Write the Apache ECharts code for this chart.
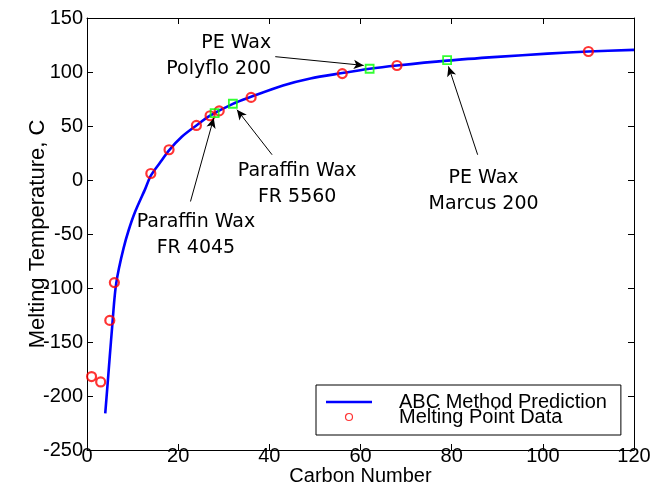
<!DOCTYPE html>
<html>
<head>
<meta charset="utf-8">
<script src="https://cdn.jsdelivr.net/npm/echarts@6/dist/echarts.min.js"></script>
<style>
  html, body { margin: 0; padding: 0; background: #fff; }
  #chart { width: 658px; height: 489px; }
</style>
</head>
<body>
<div id="chart"></div>
<script>
// ABC method prediction curve (carbon number vs melting temperature, C)
const curveN = [4, 4.5, 5, 5.5, 6, 6.4, 7, 8, 9.1, 10.6, 12.8, 14, 16, 18, 20.8, 24, 27, 32, 36, 43, 49, 56, 62, 68, 79, 90, 101, 110, 120];
const curveT = [-216, -190, -163, -137, -111, -96, -82, -63.5, -47, -29, -8, 4, 16, 27.5, 40, 50.5, 59.5, 70.5, 77, 87.5, 94, 99, 103, 106, 110.5, 114, 117, 119, 120.5];

// Measured melting points of n-alkanes
const meltN = [1, 3, 5, 6, 14, 18, 24, 27, 29, 36, 56, 68, 110];
const meltT = [-182, -187, -130, -95, 6, 28, 50.5, 59.5, 64, 76.5, 98.5, 106, 119];

// Commercial waxes
const waxN = [28, 32, 62, 79];
const waxT = [62, 70.6, 103, 111];
const waxLabels = ['Paraffin Wax\nFR 4045', 'Paraffin Wax\nFR 5560', 'PE Wax\nPolyflo 200', 'PE Wax\nMarcus 200'];

// Axis ticks
const xTicks = { min: 0, max: 120, interval: 20 };
const yTicks = { min: -250, max: 150, interval: 50 };

const zip = (a, b) => a.map((v, i) => [v, b[i]]);

// label anchors and arrow tails (in data units), one per wax
const labelAnchor = [[23.9, -50.8], [46.1, -4.2], [40.4, 115], [87, -10.3]];
const labelAlign = ['center', 'center', 'right', 'center'];
const arrowTail = [[22.7, -19.9], [40.6, 23.4], [41.3, 114.2], [85.7, 23.4]];
const arrowHead = [[27.8, 57.4], [32.9, 65.1], [60.7, 106.1], [79.3, 105.2]];

const sans = 'Liberation Sans, Arial, Helvetica, sans-serif';
const annoFont = 'DejaVu Sans, Verdana, sans-serif';

const chart = echarts.init(document.getElementById('chart'), null, { renderer: 'canvas' });

const baseAxis = {
  type: 'value',
  axisLine: { show: true, onZero: false, lineStyle: { color: '#000', width: 1 } },
  axisTick: { show: true, inside: true, length: 6, lineStyle: { color: '#000' } },
  splitLine: { show: false },
};

chart.setOption({
  animation: false,
  backgroundColor: '#fff',
  grid: { left: 87, right: 24, top: 18, bottom: 39, outerBoundsMode: 'none', containLabel: false },
  legend: {
    left: 316, top: 385,
    orient: 'vertical',
    backgroundColor: '#fff',
    borderColor: '#000', borderWidth: 1,
    padding: [7, 14, 8, 10],
    itemGap: -5,
    itemWidth: 46, itemHeight: 7,
    textStyle: { fontFamily: sans, fontSize: 20, color: '#000', padding: [0, 0, 0, 22] },
    data: [
      { name: 'ABC Method Prediction', icon: 'path://M0,0 L46,0 L46,2.6 L0,2.6 Z' },
      { name: 'Melting Point Data', icon: 'circle',
        itemStyle: { color: 'rgba(0,0,0,0)', borderColor: '#ff0000', borderWidth: 1.2 } }
    ]
  },
  xAxis: [
    Object.assign({}, baseAxis, {
      min: xTicks.min, max: xTicks.max, interval: xTicks.interval,
      position: 'bottom',
      name: 'Carbon Number', nameLocation: 'middle', nameGap: 16, nameMoveOverlap: false,
      nameTextStyle: { fontFamily: sans, fontSize: 20, color: '#000' },
      axisLabel: { fontFamily: sans, fontSize: 20, color: '#000', margin: -4 }
    }),
    Object.assign({}, baseAxis, {
      min: xTicks.min, max: xTicks.max, interval: xTicks.interval,
      position: 'top', axisLabel: { show: false }
    })
  ],
  yAxis: [
    Object.assign({}, baseAxis, {
      min: yTicks.min, max: yTicks.max, interval: yTicks.interval,
      position: 'left',
      name: 'Melting Temperature, C', nameLocation: 'middle', nameGap: 38, nameMoveOverlap: false,
      nameTextStyle: { fontFamily: sans, fontSize: 22, color: '#000' },
      axisLabel: { fontFamily: sans, fontSize: 20, color: '#000', margin: 4 }
    }),
    Object.assign({}, baseAxis, {
      min: yTicks.min, max: yTicks.max, interval: yTicks.interval,
      position: 'right', axisLabel: { show: false }
    })
  ],
  series: [
    {
      name: 'ABC Method Prediction',
      type: 'line',
      data: zip(curveN, curveT),
      smooth: 0.3,
      symbol: 'none',
      lineStyle: { color: '#0000ff', width: 2.6 },
      itemStyle: { color: '#0000ff' },
      z: 2
    },
    {
      name: 'Melting Point Data',
      type: 'scatter',
      data: zip(meltN, meltT),
      symbol: 'circle',
      symbolSize: 9,
      itemStyle: { color: 'rgba(0,0,0,0)', borderColor: '#ff0000', borderWidth: 2.2 },
      z: 3
    },
    {
      name: 'Wax Samples',
      type: 'scatter',
      data: zip(waxN, waxT),
      symbol: 'rect',
      symbolSize: 8,
      itemStyle: { color: 'rgba(0,0,0,0)', borderColor: '#00ff00', borderWidth: 1.8 },
      z: 4,
      markLine: {
        silent: true,
        animation: false,
        symbol: ['none', 'arrow'],
        symbolSize: [7, 10],
        lineStyle: { color: '#000', width: 1, type: 'solid' },
        label: { show: false },
        data: arrowTail.map((t, i) => [{ coord: t }, { coord: arrowHead[i] }])
      },
      markPoint: {
        silent: true,
        symbol: 'circle',
        symbolSize: 0,
        data: waxLabels.map((txt, i) => ({
          coord: labelAnchor[i],
          label: {
            show: true, position: 'inside', formatter: txt,
            align: labelAlign[i], verticalAlign: 'middle',
            fontFamily: annoFont, fontSize: 19, lineHeight: 26, color: '#000'
          }
        }))
      }
    }
  ]
});
</script>
</body>
</html>
